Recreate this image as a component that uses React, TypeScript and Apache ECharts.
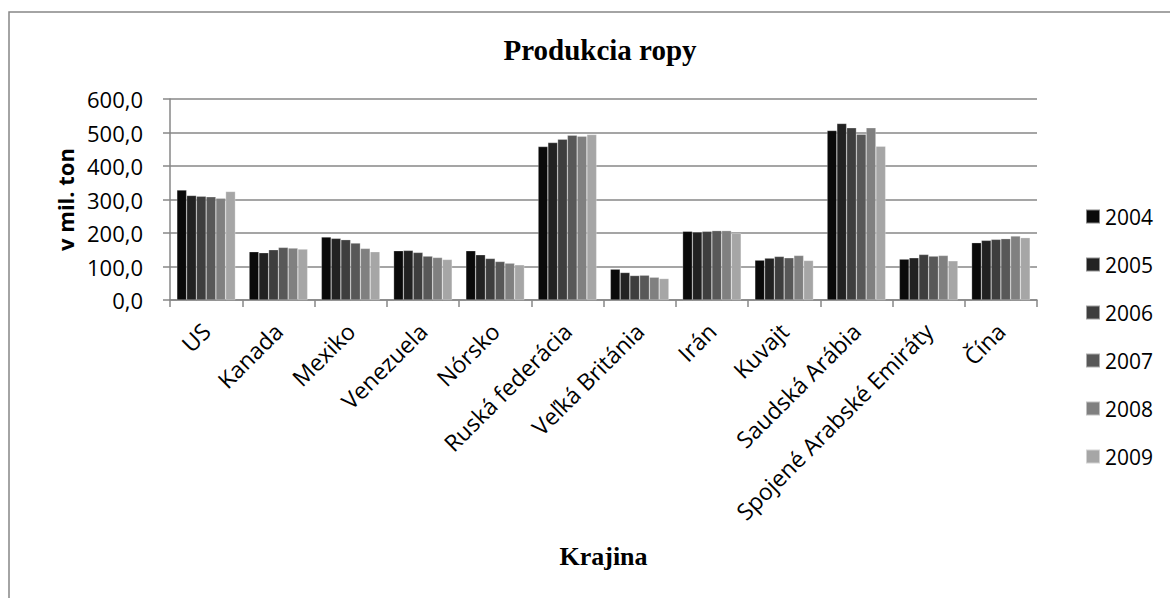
import React, { useEffect, useRef } from "react";
import * as echarts from "echarts";

const categories = [
  "US",
  "Kanada",
  "Mexiko",
  "Venezuela",
  "Nórsko",
  "Ruská federácia",
  "Veľká Británia",
  "Irán",
  "Kuvajt",
  "Saudská Arábia",
  "Spojené Arabské Emiráty",
  "Čína",
];

const years = ["2004", "2005", "2006", "2007", "2008", "2009"];

const v2004 = [328, 144, 188, 147, 147, 458, 92, 205, 119, 506, 122, 171];
const v2005 = [312, 141, 184, 148, 135, 470, 82, 203, 125, 527, 126, 178];
const v2006 = [310, 150, 180, 142, 124, 480, 73, 205, 130, 514, 136, 181];
const v2007 = [308, 157, 170, 131, 115, 492, 74, 207, 126, 495, 131, 183];
const v2008 = [304, 155, 154, 127, 110, 489, 68, 207, 133, 514, 133, 191];
const v2009 = [324, 152, 144, 121, 105, 494, 64, 199, 118, 459, 117, 186];

const seriesValues = [v2004, v2005, v2006, v2007, v2008, v2009];
const colors = ["#0a0a0a", "#222222", "#3e3e3e", "#585858", "#808080", "#a6a6a6"];

const yTicks = { min: 0, max: 600, interval: 100 };

const SANS = "'Open Sans', 'Noto Sans', sans-serif";
const SERIF = "'Liberation Serif', 'Times New Roman', serif";
const GRAY = "#878787";

export default function App() {
  const ref = useRef<HTMLDivElement>(null);

  useEffect(() => {
    if (!ref.current) return;
    const chart = echarts.init(ref.current, undefined, { renderer: "svg" });
    chart.setOption({
      animation: false,
      backgroundColor: "#ffffff",
      title: {
        text: "Produkcia ropy",
        left: 595,
        top: 30,
        textAlign: "center",
        textStyle: {
          fontFamily: SERIF,
          fontWeight: "bold",
          fontSize: 29,
          color: "#000",
        },
      },
      graphic: [
        {
          type: "polyline",
          shape: {
            points: [
              [9, 598],
              [9, 12],
              [1170, 12],
            ],
          },
          style: { stroke: GRAY, lineWidth: 1.5, fill: null },
          silent: true,
        },
      ],
      legend: {
        orient: "vertical",
        left: 1080,
        top: 201,
        itemWidth: 14,
        itemHeight: 14,
        itemGap: 27,
        icon: "rect",
        data: years,
        textStyle: { fontFamily: SANS, fontSize: 21, color: "#000" },
      },
      grid: {
        left: 170,
        right: 133,
        top: 99,
        bottom: 298,
        containLabel: false,
      },
      xAxis: {
        type: "category",
        data: categories,
        name: "Krajina",
        nameLocation: "middle",
        nameGap: 243,
        nameTextStyle: {
          fontFamily: SERIF,
          fontWeight: "bold",
          fontSize: 26,
          color: "#000",
        },
        axisLine: { show: true, lineStyle: { color: GRAY, width: 1.5 } },
        axisTick: { show: true, length: 7, lineStyle: { color: GRAY, width: 1.5 } },
        axisLabel: {
          rotate: 45,
          margin: 27,
          interval: 0,
          fontFamily: SANS,
          fontSize: 23,
          color: "#000",
        },
      },
      yAxis: {
        type: "value",
        min: yTicks.min,
        max: yTicks.max,
        interval: yTicks.interval,
        name: "v mil. ton",
        nameLocation: "middle",
        nameGap: 92,
        nameTextStyle: {
          fontFamily: SANS,
          fontWeight: "bold",
          fontSize: 22,
          color: "#000",
        },
        axisLine: { show: true, lineStyle: { color: GRAY, width: 1.5 } },
        axisTick: { show: true, length: 7, lineStyle: { color: GRAY, width: 1.5 } },
        splitLine: { show: true, lineStyle: { color: GRAY, width: 1.5 } },
        axisLabel: {
          margin: 27,
          fontFamily: SANS,
          fontSize: 22,
          color: "#000",
          formatter: (v: number) => v.toFixed(1).replace(".", ","),
        },
      },
      series: years.map((y, i) => ({
        name: y,
        type: "bar",
        data: seriesValues[i],
        barGap: "0%",
        barCategoryGap: "19%",
        itemStyle: {
          color: colors[i],
          borderColor: "rgba(255,255,255,0.5)",
          borderWidth: 0.5,
        },
      })),
    });
    return () => chart.dispose();
  }, []);

  return (
    <div
      ref={ref}
      style={{ position: "fixed", left: 0, top: 0, width: 1170, height: 598, background: "#fff" }}
    />
  );
}
